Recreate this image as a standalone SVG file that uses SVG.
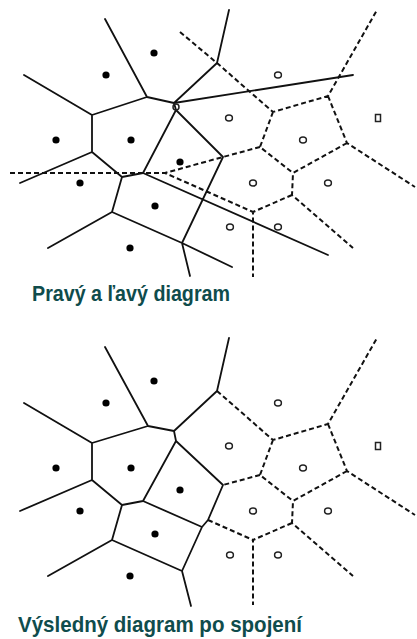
<svg xmlns="http://www.w3.org/2000/svg" width="417" height="639" viewBox="0 0 417 639">
<style>
.s{fill:none;stroke:#111;stroke-width:1.8;stroke-linecap:round;stroke-linejoin:round}
.d{fill:none;stroke:#111;stroke-width:2;stroke-dasharray:5 3;stroke-linecap:butt}
.dot{fill:#000}
.o{fill:none;stroke:#222;stroke-width:1.5}
.t{font-family:"Liberation Sans",Arial,sans-serif;font-weight:bold;fill:#0f4c4c}
</style>
<rect width="417" height="639" fill="#fff"/>
<g id="top">
 <g id="top-connectors">
  <path class="s" d="M105,19 L147,97 M24,75 L92,115 L147,97 L174,103 M92,115 L92,152 M229,10 L217,63 L174,103 M174,103 L353,75 M174,103 L176,110 L143,173 M176,110 L223,157 L182,243 M143,173 L328,255 M92,152 L122,177 L143,173 M92,152 L20,183 M122,177 L112,212 L48,248 M112,212 L182,243 L232,267 M182,243 L190,276"/>
  <path class="d" d="M180,32 L217,63 L273,112 L328,96 L377,10 M328,96 L347,143 L415,187 M347,143 L293,173 L292,195 L353,248 M292,195 L253,212 L253,277 M273,112 L260,147 L293,173 M260,147 L223,157 L165,173 M10,173 L165,173 L253,212"/>
  <circle class="o" cx="176" cy="107" r="3"/>
 </g>
 <g id="top-left-sites">
  <circle class="dot" cx="154" cy="53" r="3.6"/>
  <circle class="dot" cx="106" cy="75" r="3.6"/>
  <circle class="dot" cx="56" cy="140" r="3.6"/>
  <circle class="dot" cx="131" cy="140" r="3.6"/>
  <circle class="dot" cx="80" cy="183" r="3.6"/>
  <circle class="dot" cx="180" cy="162" r="3.6"/>
  <circle class="dot" cx="155" cy="206" r="3.6"/>
  <circle class="dot" cx="130" cy="248" r="3.6"/>
 </g>
 <g id="top-right-sites">
  <ellipse class="o" cx="278" cy="75" rx="3.4" ry="3"/>
  <ellipse class="o" cx="229" cy="118" rx="3.4" ry="3"/>
  <ellipse class="o" cx="303" cy="140" rx="3.4" ry="3"/>
  <ellipse class="o" cx="253" cy="183" rx="3.4" ry="3"/>
  <ellipse class="o" cx="328" cy="183" rx="3.4" ry="3"/>
  <ellipse class="o" cx="230" cy="227" rx="3.4" ry="3"/>
  <ellipse class="o" cx="278" cy="227" rx="3.4" ry="3"/>
  <rect class="o" x="375.5" y="114.5" width="5" height="7"/>
 </g>
 <text id="label-top" class="t" x="32" y="301" font-size="22" textLength="198" lengthAdjust="spacingAndGlyphs">Pravý a ľavý diagram</text>
</g>
<g id="bottom" transform="translate(0,328)">
 <g id="bottom-connectors">
  <path class="s" d="M105,19 L148,98 M24,75 L92,115 L148,98 L174,103 M92,115 L92,152 M229,10 L217,63 L174,103 M174,103 L176,113 L143,173 M176,113 L223,157 L208,192 L202,199 L182,243 M143,173 L202,199 M92,152 L122,177 L143,173 M92,152 L20,183 M122,177 L112,212 L48,248 M112,212 L182,243 L191,278"/>
  <path class="d" d="M217,63 L273,112 L328,96 L377,10 M328,96 L347,143 L415,187 M347,143 L293,173 L292,195 L353,248 M292,195 L253,212 L253,277 M273,112 L260,147 L293,173 M260,147 L223,157 M208,192 L253,212"/>
 </g>
 <g id="bottom-left-sites">
  <circle class="dot" cx="154" cy="53" r="3.6"/>
  <circle class="dot" cx="106" cy="75" r="3.6"/>
  <circle class="dot" cx="56" cy="140" r="3.6"/>
  <circle class="dot" cx="131" cy="140" r="3.6"/>
  <circle class="dot" cx="80" cy="183" r="3.6"/>
  <circle class="dot" cx="180" cy="162" r="3.6"/>
  <circle class="dot" cx="155" cy="206" r="3.6"/>
  <circle class="dot" cx="130" cy="248" r="3.6"/>
 </g>
 <g id="bottom-right-sites">
  <ellipse class="o" cx="278" cy="75" rx="3.4" ry="3"/>
  <ellipse class="o" cx="229" cy="118" rx="3.4" ry="3"/>
  <ellipse class="o" cx="303" cy="140" rx="3.4" ry="3"/>
  <ellipse class="o" cx="253" cy="183" rx="3.4" ry="3"/>
  <ellipse class="o" cx="328" cy="183" rx="3.4" ry="3"/>
  <ellipse class="o" cx="230" cy="227" rx="3.4" ry="3"/>
  <ellipse class="o" cx="278" cy="227" rx="3.4" ry="3"/>
  <rect class="o" x="375.5" y="114.5" width="5" height="7"/>
 </g>
</g>
<text id="label-bottom" class="t" x="18" y="632" font-size="22" textLength="284" lengthAdjust="spacingAndGlyphs">Výsledný diagram po spojení</text>
</svg>
